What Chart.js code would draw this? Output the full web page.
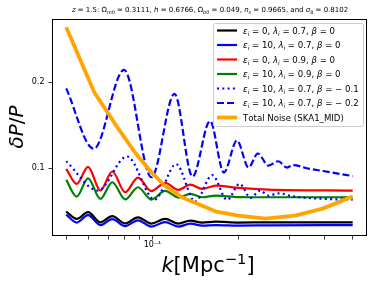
<!DOCTYPE html>
<html>
<head>
<meta charset="utf-8">
<script src="https://cdn.jsdelivr.net/npm/chart.js@4.4.0/dist/chart.umd.min.js"></script>
<style>
  html, body { margin: 0; padding: 0; background: #fff; }
</style>
</head>
<body>
<canvas id="myChart" width="374" height="286"></canvas>
<script>
// k grid shared by the four solid wiggle curves
var kWiggle = [0.050, 0.0544, 0.0596, 0.0658, 0.0724, 0.0803, 0.0890, 0.0991, 0.1107, 0.1232, 0.1356, 0.1491, 0.1666, 0.2000, 0.2539, 0.5];
var eps0Lam07 = [0.0497, 0.0411, 0.0491, 0.0372, 0.0444, 0.0360, 0.0430, 0.0357, 0.0412, 0.0357, 0.0392, 0.0369, 0.0380, 0.0369, 0.0372, 0.0372];
var eps10Lam07 = [0.0462, 0.0369, 0.0456, 0.0340, 0.0409, 0.0328, 0.0395, 0.0322, 0.0374, 0.0322, 0.0357, 0.0334, 0.0340, 0.0334, 0.0337, 0.0340];
var eps0Lam09 = [0.0993, 0.0819, 0.1016, 0.0741, 0.0962, 0.0721, 0.0892, 0.0735, 0.0831, 0.0749, 0.0810, 0.0760, 0.0799, 0.0772, 0.0752, 0.0741];
var eps10Lam09 = [0.0865, 0.0671, 0.0883, 0.0644, 0.0837, 0.0638, 0.0779, 0.0636, 0.0737, 0.0659, 0.0702, 0.0663, 0.0683, 0.0665, 0.0663, 0.0663];

// beta = -0.1
var kBeta01 = [0.050, 0.0645, 0.0815, 0.1018, 0.1210, 0.1410, 0.1618, 0.1823, 0.2016, 0.2200, 0.2376, 0.2539, 0.2770, 0.3046, 0.3990, 0.5];
var beta01 = [0.1081, 0.0741, 0.1136, 0.0636, 0.1047, 0.0613, 0.0919, 0.0633, 0.0819, 0.0656, 0.0741, 0.0683, 0.0709, 0.0677, 0.0644, 0.0636];

// beta = -0.2
var kBeta02 = [0.050, 0.0624, 0.0796, 0.0992, 0.1194, 0.1380, 0.1589, 0.1775, 0.1973, 0.2165, 0.2332, 0.2539, 0.2748, 0.2951, 0.3095, 0.3487, 0.3990, 0.5];
var beta02 = [0.1927, 0.1226, 0.2142, 0.0895, 0.1863, 0.0903, 0.1549, 0.0950, 0.1322, 0.1008, 0.1171, 0.1031, 0.1081, 0.1008, 0.1037, 0.0997, 0.0965, 0.0909];

// total noise SKA1_MID
var kNoise = [0.050, 0.0627, 0.0759, 0.0869, 0.0979, 0.1102, 0.1272, 0.1456, 0.1666, 0.2000, 0.2478, 0.3146, 0.3928, 0.5];
var noise = [0.2636, 0.1880, 0.1462, 0.1183, 0.0973, 0.0799, 0.0659, 0.0578, 0.0497, 0.0450, 0.0415, 0.0450, 0.0531, 0.0671];

var xTicks = [0.05, 0.06, 0.07, 0.08, 0.09, 0.1, 0.2, 0.3, 0.4, 0.5];
var yTicks = [0.1, 0.2];

var labels = [
  '$ε_i = 0, λ_i = 0.7, β = 0$',
  '$ε_i = 10, λ_i = 0.7, β = 0$',
  '$ε_i = 0, λ_i = 0.9, β = 0$',
  '$ε_i = 10, λ_i = 0.9, β = 0$',
  '$ε_i = 10, λ_i = 0.7, β = − 0.1$',
  '$ε_i = 10, λ_i = 0.7, β = − 0.2$',
  'Total Noise (SKA1_MID)'
];
var titleText = '$z = 1.5$: $Ω_{m0} = 0.3111$, $h = 0.6766$, $Ω_{b0} = 0.049$, $n_s = 0.9665$, and $σ_8 = 0.8102$';

function pts(ks, vs) {
  return ks.map(function (k, i) { return { x: k, y: vs[i] }; });
}

// tiny mathtext-like renderer: $..$ math, _ / ^ sub/superscripts
function parseRich(str) {
  var runs = [], math = false, i = 0;
  while (i < str.length) {
    var c = str[i];
    if (c === '$') { math = !math; i++; continue; }
    if (math && (c === '_' || c === '^')) {
      var pos = c === '_' ? 'sub' : 'sup';
      i++;
      var group;
      if (str[i] === '{') {
        var j = str.indexOf('}', i);
        group = str.slice(i + 1, j);
        i = j + 1;
      } else {
        group = str[i];
        i++;
      }
      for (var n = 0; n < group.length; n++) {
        runs.push({ t: group[n], it: /[A-Za-zα-ω]/.test(group[n]), pos: pos });
      }
      continue;
    }
    runs.push({ t: c, it: math && /[A-Za-zα-ω]/.test(c), pos: 'base' });
    i++;
  }
  return runs;
}

function runFont(r, size) {
  var s = r.pos === 'base' ? size : size * 0.7;
  return (r.it ? 'italic ' : '') + s + 'px "DejaVu Sans"';
}

function drawRich(ctx, str, x, y, size, align) {
  var runs = parseRich(str);
  var total = 0;
  runs.forEach(function (r) {
    ctx.font = runFont(r, size);
    r.w = ctx.measureText(r.t).width;
    total += r.w;
  });
  var cx = align === 'center' ? x - total / 2 : x;
  ctx.textAlign = 'left';
  ctx.textBaseline = 'alphabetic';
  runs.forEach(function (r) {
    ctx.font = runFont(r, size);
    var dy = r.pos === 'sub' ? size * 0.22 : (r.pos === 'sup' ? -size * 0.4 : 0);
    ctx.fillText(r.t, cx, y + dy);
    cx += r.w;
  });
}

var styles = [
  { color: '#000000', dash: [], width: 2.2 },
  { color: '#0000ff', dash: [], width: 2.2 },
  { color: '#ff0000', dash: [], width: 2.2 },
  { color: '#008000', dash: [], width: 2.2 },
  { color: '#0000ff', dash: [2, 3.3], width: 2.2 },
  { color: '#0000ff', dash: [7, 3], width: 2.2 },
  { color: '#ffa500', dash: [], width: 3.8 }
];

var series = [
  pts(kWiggle, eps0Lam07),
  pts(kWiggle, eps10Lam07),
  pts(kWiggle, eps0Lam09),
  pts(kWiggle, eps10Lam09),
  pts(kBeta01, beta01),
  pts(kBeta02, beta02),
  pts(kNoise, noise)
];

var datasets = series.map(function (d, i) {
  var isNoise = i === series.length - 1;
  return {
    label: labels[i],
    data: d,
    borderColor: styles[i].color,
    borderWidth: styles[i].width,
    borderDash: styles[i].dash,
    borderCapStyle: 'butt',
    borderJoinStyle: 'round',
    fill: false,
    pointRadius: 0,
    tension: 0,
    cubicInterpolationMode: isNoise ? 'default' : 'monotone',
    order: 7 - i
  };
});

var textPlugin = {
  id: 'texts',
  afterDraw: function (chart) {
    var ctx = chart.ctx;
    var a = chart.chartArea;
    ctx.save();
    // axes frame
    ctx.strokeStyle = '#000';
    ctx.lineWidth = 1;
    ctx.strokeRect(a.left + 0.5, a.top + 0.5, a.right - a.left - 1, a.bottom - a.top - 1);

    ctx.fillStyle = '#000';
    drawRich(ctx, titleText, 210, 12, 7, 'center');
    drawRich(ctx, '$k$[Mpc$^{−1}$]', 208, 272, 21, 'center');

    ctx.save();
    ctx.translate(23, 127);
    ctx.rotate(-Math.PI / 2);
    drawRich(ctx, '$δP/P$', 0, 0, 20, 'center');
    ctx.restore();

    // legend
    var lx = 213, ly = 23, lw = 150, lh = 103;
    ctx.beginPath();
    ctx.roundRect(lx + 0.5, ly + 0.5, lw, lh, 2);
    ctx.fillStyle = 'rgba(255,255,255,0.8)';
    ctx.fill();
    ctx.strokeStyle = '#cccccc';
    ctx.lineWidth = 1;
    ctx.stroke();
    for (var i = 0; i < labels.length; i++) {
      var ry = 30.5 + i * 14.5;
      ctx.beginPath();
      ctx.setLineDash(styles[i].dash);
      ctx.lineCap = 'butt';
      ctx.strokeStyle = styles[i].color;
      ctx.lineWidth = styles[i].width;
      ctx.moveTo(217, ry);
      ctx.lineTo(237, ry);
      ctx.stroke();
      ctx.setLineDash([]);
      ctx.fillStyle = '#000';
      drawRich(ctx, labels[i], 243, ry + 3.2, 8.6, 'left');
    }
    ctx.restore();
  }
};

Chart.defaults.font.family = '"DejaVu Sans"';

var myChart = new Chart(document.getElementById('myChart').getContext('2d'), {
  type: 'line',
  data: { datasets: datasets },
  options: {
    responsive: false,
    animation: false,
    layout: { padding: { top: 19, right: 7, left: 0, bottom: 0 } },
    plugins: { legend: { display: false }, tooltip: { enabled: false }, title: { display: false } },
    scales: {
      x: {
        type: 'logarithmic',
        min: 0.0446,
        max: 0.561,
        bounds: 'data',
        afterBuildTicks: function (s) { s.ticks = xTicks.map(function (v) { return { value: v }; }); },
        afterFit: function (s) { s.height = 50; },
        grid: { display: true, drawOnChartArea: false, drawTicks: true, tickLength: 3.5, color: '#000', lineWidth: 0.8 },
        border: { display: false },
        ticks: {
          autoSkip: false, maxRotation: 0, padding: 1, color: '#000',
          font: { size: 8 },
          callback: function (v) { return Math.abs(v - 0.1) < 1e-9 ? '10⁻¹' : ''; }
        }
      },
      y: {
        type: 'linear',
        min: 0.0213,
        max: 0.2733,
        afterBuildTicks: function (s) { s.ticks = yTicks.map(function (v) { return { value: v }; }); },
        afterFit: function (s) { s.width = 52; },
        grid: { display: true, drawOnChartArea: false, drawTicks: true, tickLength: 3.5, color: '#000', lineWidth: 0.8 },
        border: { display: false },
        ticks: {
          padding: 4, color: '#000',
          font: { size: 8 },
          callback: function (v) { return v.toFixed(1); }
        }
      }
    }
  },
  plugins: [textPlugin]
});
</script>
</body>
</html>
